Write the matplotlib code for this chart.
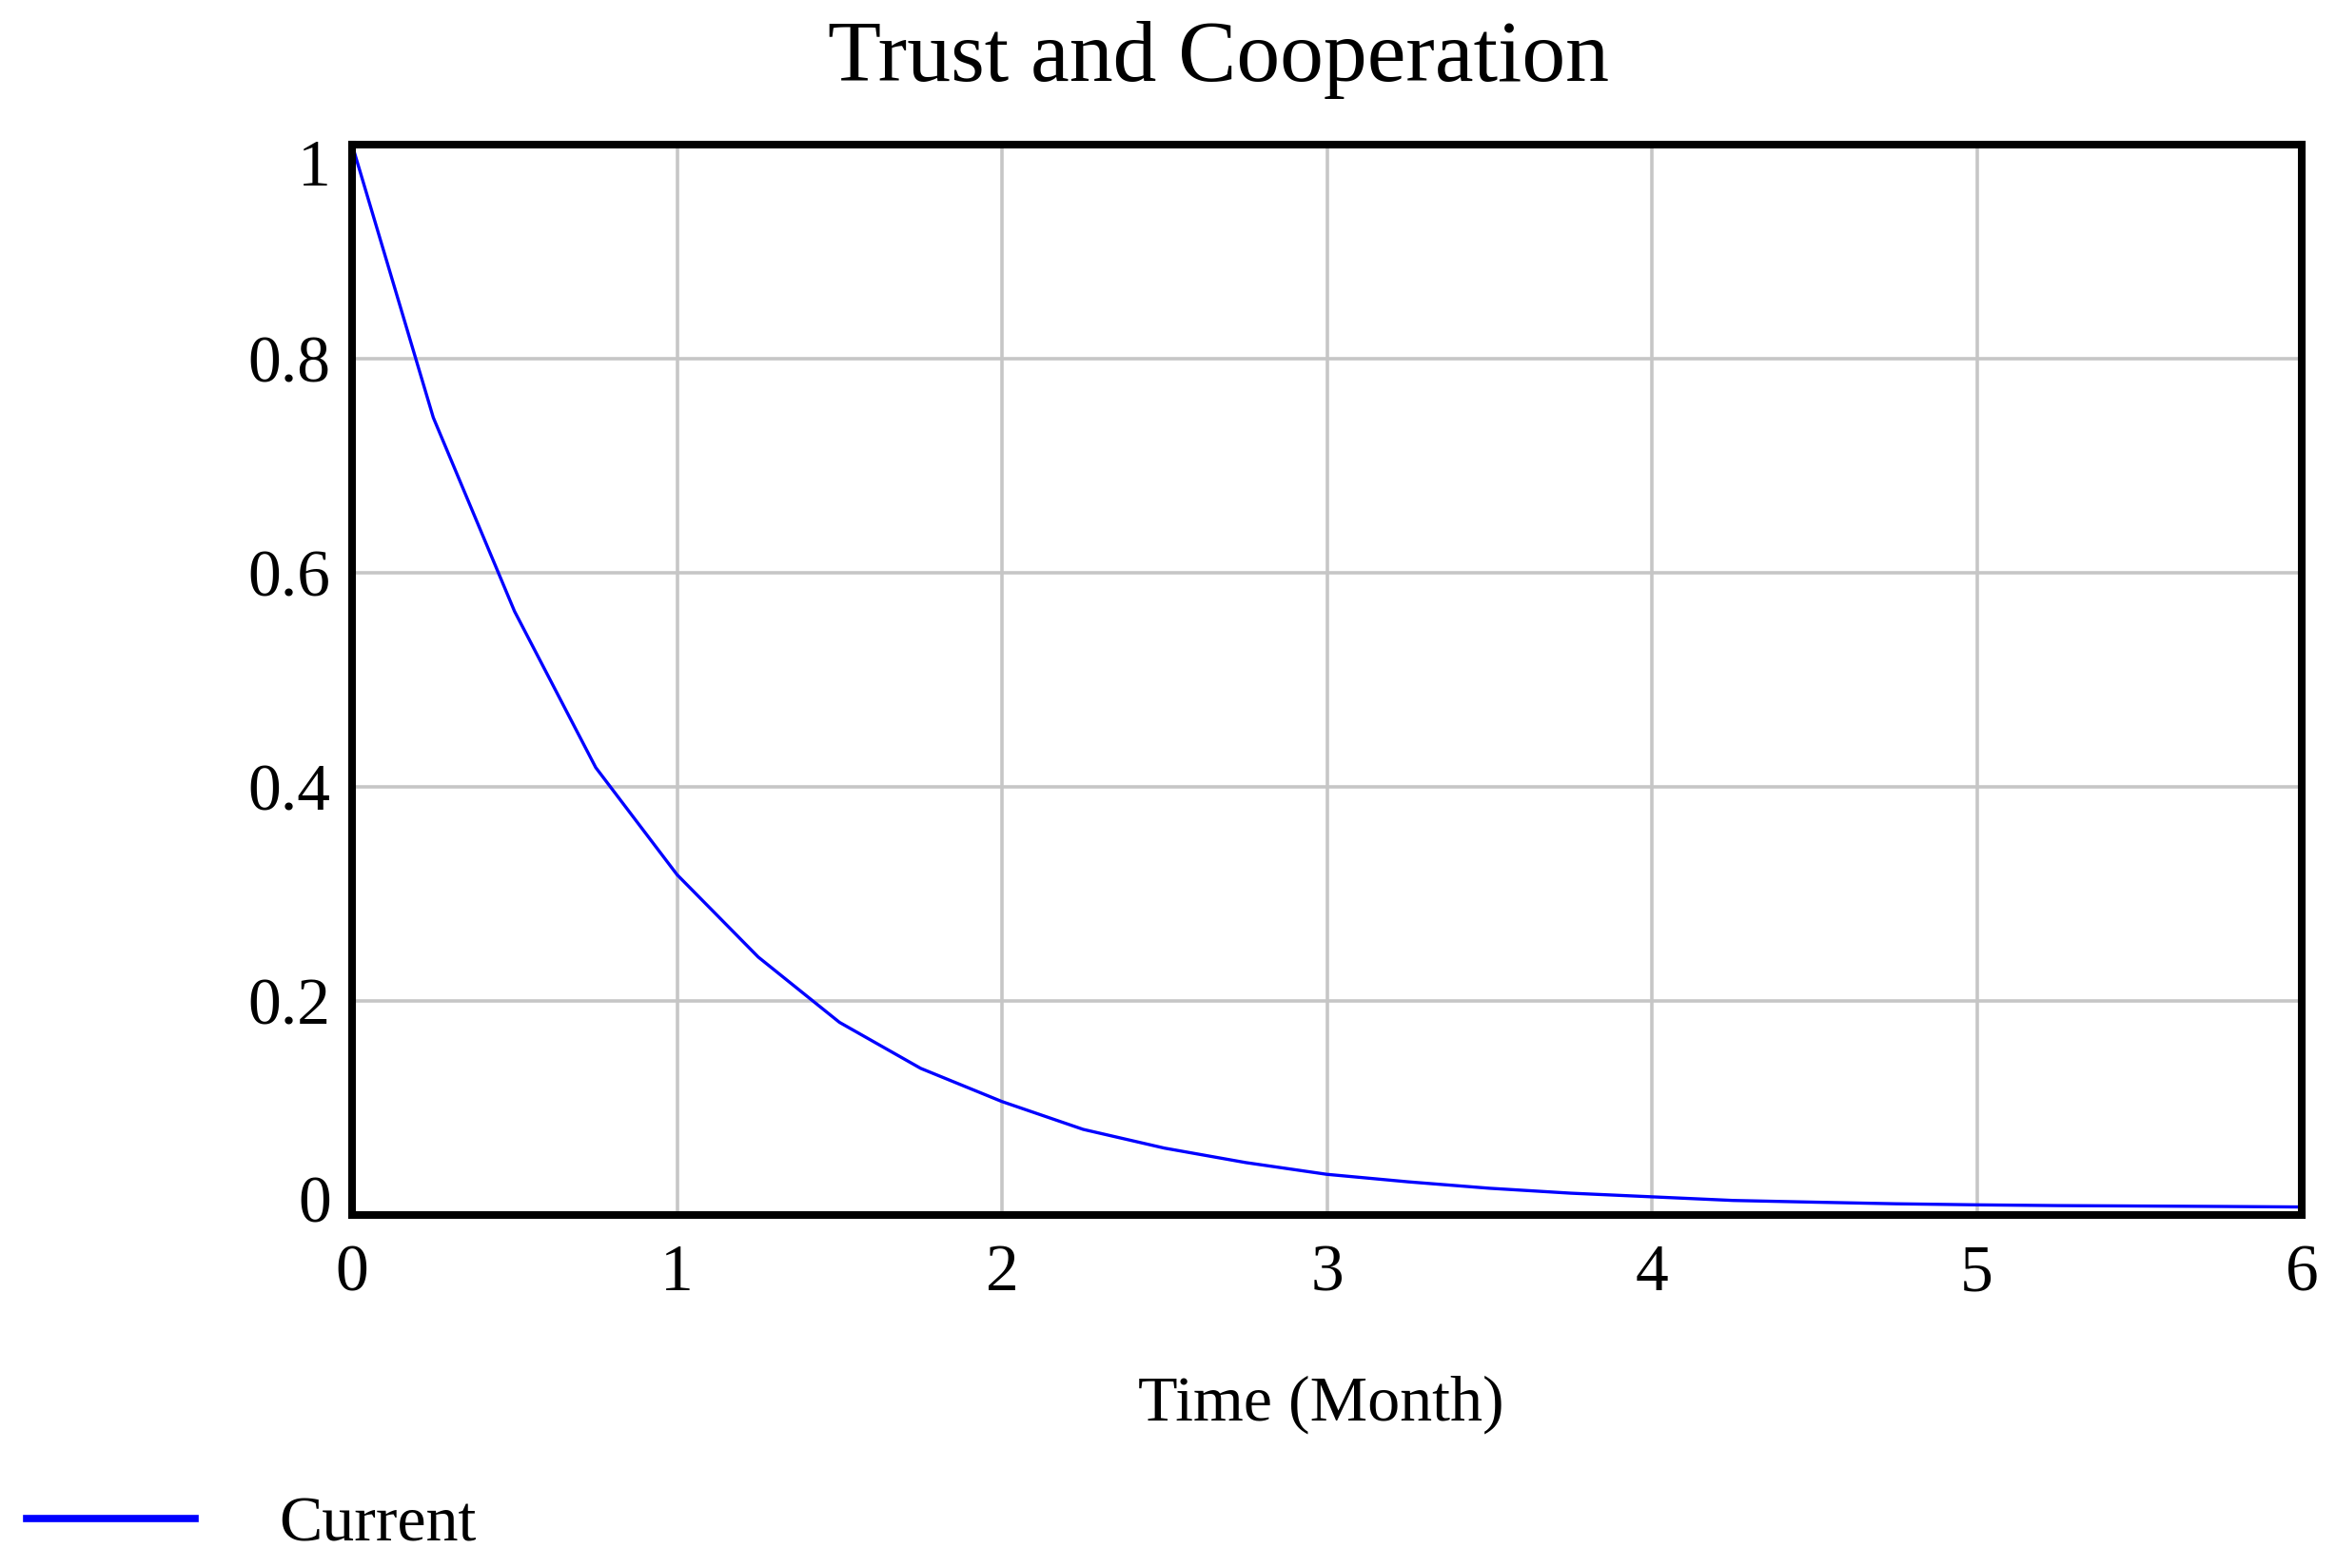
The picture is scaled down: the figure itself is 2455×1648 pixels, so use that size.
import matplotlib
matplotlib.use("Agg")
import matplotlib.pyplot as plt
import matplotlib.transforms as mtransforms

# ---- data ----
time_month = [0, 0.25, 0.5, 0.75, 1, 1.25, 1.5, 1.75, 2, 2.25, 2.5, 2.75, 3,
              3.25, 3.5, 3.75, 4, 4.25, 4.5, 4.75, 5, 5.25, 5.5, 5.75, 6]
trust_current = [1.0, 0.745, 0.564, 0.418, 0.318, 0.241, 0.180, 0.137, 0.106,
                 0.080, 0.0625, 0.049, 0.038, 0.031, 0.025, 0.0204, 0.017,
                 0.0136, 0.012, 0.0105, 0.0095, 0.0088, 0.0084, 0.008, 0.0075]
x_ticks = [0, 1, 2, 3, 4, 5, 6]
y_ticks = [0, 0.2, 0.4, 0.6, 0.8, 1]
y_tick_labels = ["0", "0.2", "0.4", "0.6", "0.8", "1"]
series_name = "Current"
title_text = "Trust and Cooperation"
x_label = "Time (Month)"

plt.rcParams['font.family'] = ['Liberation Serif', 'DejaVu Serif']

W, H, DPI = 2455, 1648, 100
fig = plt.figure(figsize=(W / DPI, H / DPI), dpi=DPI)
fig.patch.set_facecolor("white")

left, right, top, bottom = 370, 2419, 152, 1277
ax = fig.add_axes([left / W, 1 - bottom / H, (right - left) / W, (bottom - top) / H])

line, = ax.plot(time_month, trust_current, color="#0000ff", linewidth=2.4,
                label=series_name, zorder=3, solid_joinstyle="round")

ax.set_xlim(0, 6)
ax.set_ylim(0, 1)
ax.set_xticks(x_ticks)
ax.set_xticklabels([str(t) for t in x_ticks])
ax.set_yticks(y_ticks)
ax.set_yticklabels(y_tick_labels)

ax.grid(True, color="#c6c6c6", linewidth=2.6, zorder=1)
ax.set_axisbelow(True)

for s in ax.spines.values():
    s.set_linewidth(5.8)
    s.set_color("black")
    s.set_capstyle("projecting")
    s.set_zorder(4)

ax.tick_params(axis="both", length=0, labelsize=50, colors="black")
ax.tick_params(axis="x", pad=22)
ax.tick_params(axis="y", pad=16)

# shift extreme y labels inward as in reference
ylabels = ax.get_yticklabels()
ylabels[0].set_transform(ylabels[0].get_transform() +
                         mtransforms.ScaledTranslation(0, 17 / DPI, fig.dpi_scale_trans))
ylabels[-1].set_transform(ylabels[-1].get_transform() +
                          mtransforms.ScaledTranslation(0, -19 / DPI, fig.dpi_scale_trans))

ax.set_xlabel(x_label, fontsize=49, va="baseline")
ax.xaxis.set_label_coords((1388 - left) / (right - left), (bottom - 1493) / (bottom - top))

fig.text(1281 / W, 1 - 85 / H, title_text, fontsize=66, ha="center", va="baseline")

leg = fig.legend(handles=[line], loc="center left",
                 bbox_to_anchor=(28 / W, 1 - 1603 / H), bbox_transform=fig.transFigure,
                 frameon=False, fontsize=49, handlelength=2.6, handletextpad=1.3,
                 borderpad=0, borderaxespad=0)
for l in leg.get_lines():
    l.set_linewidth(5.5)

fig.savefig("out.png", dpi=DPI)
